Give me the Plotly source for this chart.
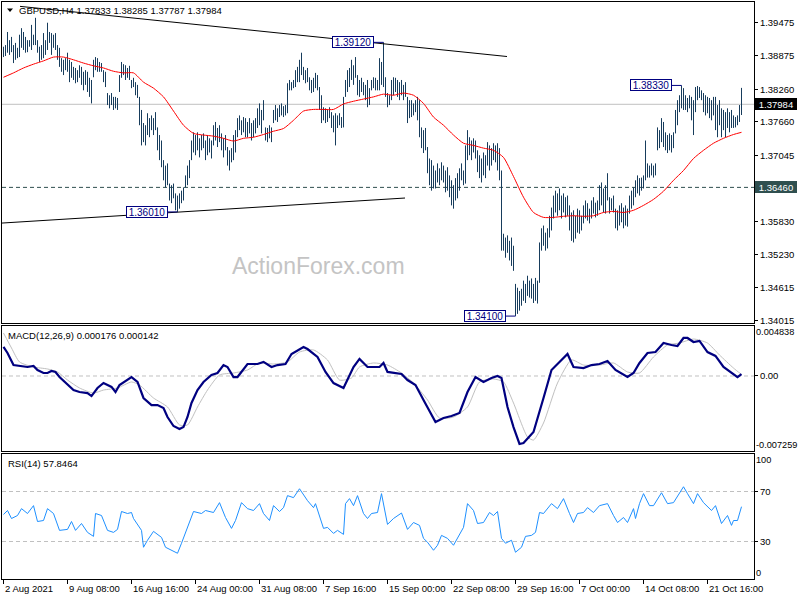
import plotly.graph_objects as go

# ---------------- data ----------------
symbol = "GBPUSD,H4"
last_bar = [1.37833, 1.38285, 1.37787, 1.37984]   # open, high, low, close

bar_high = [
    1.3904, 1.3907, 1.3931, 1.3916, 1.3922, 1.3907, 1.3911, 1.3902, 1.3926, 1.3938,
    1.3931, 1.3922, 1.3916, 1.3916, 1.3944, 1.3926, 1.3957, 1.3916, 1.3904, 1.3907,
    1.3929, 1.3916, 1.3948, 1.3931, 1.3929, 1.3926, 1.3929, 1.3907, 1.3902, 1.3883,
    1.3880, 1.3883, 1.3893, 1.3880, 1.3876, 1.3867, 1.3865, 1.3861, 1.3870, 1.3867,
    1.3858, 1.3861, 1.3858, 1.3847, 1.3843, 1.3880, 1.3885, 1.3883, 1.3876, 1.3874,
    1.3861, 1.3858, 1.3819, 1.3815, 1.3819, 1.3812, 1.3812, 1.3810, 1.3852, 1.3876,
    1.3872, 1.3870, 1.3865, 1.3869, 1.3843, 1.3847, 1.3839, 1.3834, 1.3812, 1.3788,
    1.3764, 1.3760, 1.3782, 1.3773, 1.3778, 1.3773, 1.3784, 1.3756, 1.3742, 1.3732,
    1.3696, 1.3686, 1.3690, 1.3653, 1.3650, 1.3653, 1.3635, 1.3631, 1.3635, 1.3640,
    1.3646, 1.3668, 1.3686, 1.3696, 1.3732, 1.3747, 1.3742, 1.3747, 1.3736, 1.3742,
    1.3745, 1.3732, 1.3742, 1.3736, 1.3732, 1.3760, 1.3766, 1.3755, 1.3760, 1.3745,
    1.3736, 1.3742, 1.3720, 1.3714, 1.3718, 1.3742, 1.3751, 1.3773, 1.3778, 1.3769,
    1.3775, 1.3773, 1.3766, 1.3773, 1.3764, 1.3769, 1.3773, 1.3791, 1.3800, 1.3788,
    1.3806, 1.3756, 1.3755, 1.3760, 1.3756, 1.3788, 1.3797, 1.3791, 1.3797, 1.3800,
    1.3795, 1.3797, 1.3837, 1.3843, 1.3839, 1.3843, 1.3861, 1.3867, 1.3880, 1.3893,
    1.3867, 1.3861, 1.3865, 1.3848, 1.3843, 1.3847, 1.3856, 1.3852, 1.3830, 1.3815,
    1.3793, 1.3791, 1.3788, 1.3793, 1.3784, 1.3778, 1.3782, 1.3778, 1.3782, 1.3775,
    1.3812, 1.3843, 1.3861, 1.3865, 1.3880, 1.3870, 1.3885, 1.3852, 1.3843, 1.3847,
    1.3839, 1.3834, 1.3843, 1.3828, 1.3843, 1.3848, 1.3847, 1.3843, 1.3883, 1.3876,
    1.3912, 1.3848, 1.3819, 1.3815, 1.3843, 1.3848, 1.3847, 1.3843, 1.3839, 1.3843,
    1.3834, 1.3839, 1.3812, 1.3806, 1.3806, 1.3800, 1.3806, 1.3812, 1.3806, 1.3756,
    1.3751, 1.3755, 1.3720, 1.3699, 1.3696, 1.3686, 1.3677, 1.3690, 1.3681, 1.3692,
    1.3686, 1.3677, 1.3683, 1.3668, 1.3659, 1.3650, 1.3663, 1.3672, 1.3681, 1.3690,
    1.3677, 1.3723, 1.3751, 1.3738, 1.3732, 1.3736, 1.3732, 1.3714, 1.3705, 1.3699,
    1.3710, 1.3705, 1.3729, 1.3723, 1.3718, 1.3727, 1.3723, 1.3727, 1.3718, 1.3677,
    1.3561, 1.3554, 1.3558, 1.3548, 1.3554, 1.3539, 1.3469, 1.3462, 1.3456, 1.3460,
    1.3475, 1.3469, 1.3484, 1.3475, 1.3479, 1.3469, 1.3480, 1.3475, 1.3545, 1.3571,
    1.3576, 1.3563, 1.3571, 1.3594, 1.3609, 1.3631, 1.3640, 1.3635, 1.3644, 1.3631,
    1.3635, 1.3628, 1.3631, 1.3613, 1.3600, 1.3604, 1.3594, 1.3607, 1.3604, 1.3594,
    1.3613, 1.3622, 1.3617, 1.3607, 1.3622, 1.3628, 1.3618, 1.3622, 1.3650, 1.3655,
    1.3644, 1.3650, 1.3672, 1.3628, 1.3626, 1.3631, 1.3607, 1.3604, 1.3613, 1.3617,
    1.3609, 1.3613, 1.3607, 1.3631, 1.3640, 1.3646, 1.3659, 1.3668, 1.3663, 1.3664,
    1.3668, 1.3732, 1.3690, 1.3686, 1.3690, 1.3686, 1.3690, 1.3756, 1.3751, 1.3773,
    1.3766, 1.3747, 1.3742, 1.3745, 1.3742, 1.3747, 1.3788, 1.3806, 1.3815, 1.3833,
    1.3828, 1.3815, 1.3810, 1.3815, 1.3812, 1.3806, 1.3830, 1.3832, 1.3830, 1.3824,
    1.3819, 1.3815, 1.3812, 1.3810, 1.3806, 1.3812, 1.3812, 1.3797, 1.3806, 1.3791,
    1.3788, 1.3784, 1.3791, 1.3784, 1.3788, 1.3778, 1.3775, 1.3778, 1.3797, 1.38285,
]

bar_low = [
    1.3885, 1.3887, 1.3893, 1.3889, 1.3894, 1.3874, 1.3880, 1.3883, 1.3885, 1.3902,
    1.3898, 1.3893, 1.3894, 1.3904, 1.3898, 1.3907, 1.3907, 1.3893, 1.3876, 1.3880,
    1.3883, 1.3889, 1.3898, 1.3911, 1.3889, 1.3902, 1.3898, 1.3880, 1.3867, 1.3858,
    1.3852, 1.3861, 1.3858, 1.3839, 1.3847, 1.3843, 1.3837, 1.3839, 1.3847, 1.3834,
    1.3824, 1.3834, 1.3821, 1.3812, 1.3800, 1.3848, 1.3861, 1.3858, 1.3858, 1.3858,
    1.3839, 1.3830, 1.3797, 1.3791, 1.3797, 1.3788, 1.3791, 1.3788, 1.3821, 1.3847,
    1.3852, 1.3843, 1.3847, 1.3843, 1.3828, 1.3830, 1.3815, 1.3810, 1.3760, 1.3723,
    1.3729, 1.3723, 1.3742, 1.3738, 1.3751, 1.3742, 1.3751, 1.3714, 1.3696, 1.3683,
    1.3659, 1.3646, 1.3650, 1.3622, 1.3617, 1.3626, 1.3604, 1.3601, 1.3607, 1.3617,
    1.3622, 1.3646, 1.3650, 1.3663, 1.3696, 1.3710, 1.3705, 1.3714, 1.3701, 1.3714,
    1.3718, 1.3696, 1.3705, 1.3710, 1.3699, 1.3723, 1.3732, 1.3720, 1.3729, 1.3714,
    1.3701, 1.3714, 1.3686, 1.3677, 1.3692, 1.3696, 1.3710, 1.3738, 1.3751, 1.3742,
    1.3747, 1.3738, 1.3738, 1.3745, 1.3732, 1.3738, 1.3745, 1.3755, 1.3760, 1.3745,
    1.3769, 1.3732, 1.3729, 1.3736, 1.3729, 1.3764, 1.3769, 1.3766, 1.3775, 1.3778,
    1.3775, 1.3778, 1.3782, 1.3824, 1.3824, 1.3828, 1.3830, 1.3839, 1.3839, 1.3852,
    1.3843, 1.3837, 1.3839, 1.3824, 1.3819, 1.3821, 1.3828, 1.3824, 1.3788, 1.3764,
    1.3769, 1.3764, 1.3766, 1.3773, 1.3755, 1.3747, 1.3723, 1.3755, 1.3760, 1.3755,
    1.3756, 1.3812, 1.3821, 1.3830, 1.3843, 1.3834, 1.3847, 1.3815, 1.3812, 1.3821,
    1.3815, 1.3806, 1.3793, 1.3797, 1.3824, 1.3828, 1.3824, 1.3824, 1.3824, 1.3834,
    1.3830, 1.3812, 1.3793, 1.3797, 1.3806, 1.3815, 1.3821, 1.3812, 1.3806, 1.3815,
    1.3806, 1.3812, 1.3764, 1.3773, 1.3775, 1.3778, 1.3784, 1.3769, 1.3738, 1.3718,
    1.3709, 1.3714, 1.3672, 1.3650, 1.3640, 1.3644, 1.3644, 1.3655, 1.3650, 1.3659,
    1.3655, 1.3637, 1.3640, 1.3628, 1.3613, 1.3607, 1.3622, 1.3626, 1.3640, 1.3659,
    1.3650, 1.3653, 1.3696, 1.3705, 1.3696, 1.3710, 1.3699, 1.3674, 1.3663, 1.3655,
    1.3668, 1.3663, 1.3686, 1.3677, 1.3686, 1.3696, 1.3692, 1.3677, 1.3659, 1.3530,
    1.3530, 1.3517, 1.3526, 1.3512, 1.3502, 1.3493, 1.3410, 1.3414, 1.3420, 1.3429,
    1.3438, 1.3434, 1.3447, 1.3444, 1.3442, 1.3434, 1.3438, 1.3433, 1.3471, 1.3530,
    1.3539, 1.3530, 1.3534, 1.3554, 1.3567, 1.3589, 1.3600, 1.3594, 1.3604, 1.3589,
    1.3600, 1.3591, 1.3594, 1.3567, 1.3548, 1.3545, 1.3552, 1.3563, 1.3561, 1.3567,
    1.3580, 1.3589, 1.3585, 1.3580, 1.3589, 1.3598, 1.3591, 1.3594, 1.3604, 1.3613,
    1.3600, 1.3598, 1.3622, 1.3598, 1.3604, 1.3600, 1.3571, 1.3567, 1.3576, 1.3582,
    1.3571, 1.3576, 1.3574, 1.3598, 1.3607, 1.3613, 1.3628, 1.3635, 1.3631, 1.3640,
    1.3644, 1.3659, 1.3664, 1.3664, 1.3668, 1.3664, 1.3668, 1.3714, 1.3718, 1.3729,
    1.3720, 1.3714, 1.3709, 1.3714, 1.3710, 1.3718, 1.3745, 1.3760, 1.3784, 1.3791,
    1.3788, 1.3788, 1.3784, 1.3791, 1.3769, 1.3742, 1.3784, 1.3806, 1.3810, 1.3806,
    1.3784, 1.3778, 1.3782, 1.3773, 1.3769, 1.3778, 1.3751, 1.3738, 1.3760, 1.3738,
    1.3751, 1.3738, 1.3755, 1.3747, 1.3755, 1.3755, 1.3756, 1.3760, 1.3766, 1.37787,
]

# moving average (red), sampled every 5 bars
ma_idx = list(range(0, 366, 5)) + [369]
ma_val = [
    1.3848, 1.3856, 1.3865, 1.3872, 1.3878, 1.3885, 1.3885, 1.3880, 1.3874, 1.3869,
    1.3865, 1.3859, 1.3856, 1.3856, 1.3839, 1.3828, 1.3812, 1.3786, 1.3760, 1.3745,
    1.3742, 1.3740, 1.3736, 1.3731, 1.3736, 1.3738, 1.3743, 1.3749, 1.3754, 1.3769,
    1.3786, 1.3789, 1.3789, 1.3789, 1.3799, 1.3804, 1.3808, 1.3812, 1.3817, 1.3815,
    1.3819, 1.3815, 1.3800, 1.3775, 1.3760, 1.3742, 1.3727, 1.3723, 1.3718, 1.3714,
    1.3701, 1.3666, 1.3628, 1.3600, 1.3591, 1.3591, 1.3593, 1.3594, 1.3593, 1.3594,
    1.3600, 1.3602, 1.3600, 1.3604, 1.3613, 1.3624, 1.3639, 1.3659, 1.3677, 1.3699,
    1.3714, 1.3727, 1.3736, 1.3743, 1.3747,
]

# MACD(12,26,9): main line and signal line
macd_idx = [0, 2, 5, 8, 12, 15, 17, 20, 22, 24, 26, 28, 32, 35, 38, 42, 44, 47, 50, 54,
            56, 58, 64, 67, 70, 74, 77, 80, 82, 85, 88, 90, 92, 94, 97, 100, 104, 107, 110, 112,
            115, 117, 122, 127, 130, 134, 137, 141, 144, 150, 152, 157, 161, 165, 170, 172, 175, 178, 182, 188,
            190, 192, 199, 202, 206, 210, 214, 216, 220, 224, 228, 232, 236, 240, 244, 247, 249, 252, 255, 258,
            260, 265, 270, 274, 278, 282, 285, 290, 294, 298, 302, 306, 312, 315, 318, 322, 326, 330, 334, 337,
            340, 342, 345, 348, 352, 356, 360, 364, 367, 369]
macd_val = [0.00281, 0.00223, 0.00106, 0.00097, 0.00087, 0.00097, 0.00058, 0.00029, 0.00029, 0.00048,
            0.00039, -0.0001, -0.00087, -0.00136, -0.00155, -0.00165, -0.00194, -0.00116, -0.00068, -0.00106,
            -0.00155, -0.00087, -0.0001, -0.00058, -0.00213, -0.00281, -0.00281, -0.0031, -0.00397, -0.00484,
            -0.00513, -0.00494, -0.00397, -0.00261, -0.00136, -0.00058, 0.0001, 0.00029, 0.00106, 0.00087,
            -0.0001, -0.0001, 0.00116, 0.00116, 0.00136, 0.00087, 0.00106, 0.00116, 0.00213, 0.00281,
            0.00261, 0.00184, 0.00039, -0.00068, -0.00116, -0.00039, 0.00087, 0.00165, 0.00087, 0.00087,
            0.00126, 0.00039, 0.00019, -0.00039, -0.00087, -0.00232, -0.00378, -0.00445, -0.00407, -0.00387,
            -0.00358, -0.00155, -0.0001, -0.00058, -0.00019, 0.0, -0.00019, -0.003, -0.00494, -0.00658,
            -0.00649, -0.00542, -0.00213, 0.00058, 0.00136, 0.00213, 0.00087, 0.00077, 0.00106, 0.00116,
            0.00145, 0.00058, -0.0001, 0.00029, 0.00126, 0.00223, 0.00232, 0.00319, 0.003, 0.0029,
            0.00368, 0.00368, 0.00329, 0.00339, 0.00232, 0.00194, 0.00087, 0.00029, -0.0001, 0.000176]

signal_idx = [0, 4, 8, 15, 22, 27, 32, 38, 45, 50, 57, 64, 68, 75, 82, 88, 92, 97, 102, 108,
              115, 122, 128, 135, 142, 148, 155, 162, 168, 174, 178, 185, 192, 199, 205, 212, 218, 225, 232, 238,
              245, 250, 255, 262, 265, 270, 277, 284, 290, 298, 305, 312, 318, 325, 332, 338, 345, 352, 358, 365,
              369]
signal_val = [0.00416, 0.00271, 0.00136, 0.00087, 0.00068, 0.00039, -0.00039, -0.00116, -0.00165, -0.00136,
              -0.00116, -0.00058, -0.00087, -0.00213, -0.003, -0.00474, -0.00474, -0.003, -0.00136, 0.0001,
              0.00029, 0.00058, 0.00126, 0.00116, 0.00136, 0.00232, 0.00252, 0.00155, -0.00039, -0.00019,
              0.00087, 0.00126, 0.00106, 0.00029, -0.00068, -0.00232, -0.00407, -0.00397, -0.003, -0.00058,
              -0.00029, -0.00058, -0.00261, -0.0059, -0.0062, -0.00455, -0.00068, 0.00155, 0.00106, 0.00106,
              0.00126, 0.00039, 0.00029, 0.00184, 0.003, 0.00319, 0.00358, 0.00319, 0.00203, 0.00077,
              0.000142]
macd_scale = [-0.007259, 0.004838]

# RSI(14)
rsi_idx = [0, 2, 4, 7, 9, 12, 15, 17, 20, 22, 25, 28, 32, 34, 36, 39, 42, 45, 46, 49,
           52, 55, 57, 59, 62, 64, 65, 69, 70, 72, 75, 79, 81, 84, 87, 89, 91, 93, 95, 99,
           101, 105, 108, 111, 114, 116, 119, 122, 125, 128, 130, 133, 135, 138, 140, 142, 145, 148, 152, 155,
           156, 160, 162, 165, 167, 170, 171, 173, 175, 177, 180, 182, 184, 187, 189, 192, 195, 199, 202, 205,
           208, 210, 212, 215, 217, 219, 222, 225, 227, 230, 232, 235, 237, 240, 243, 245, 247, 249, 251, 254,
           256, 259, 261, 264, 266, 268, 270, 274, 277, 280, 283, 285, 287, 290, 292, 295, 298, 302, 305, 307,
           310, 312, 315, 316, 318, 320, 323, 325, 329, 332, 335, 340, 342, 345, 347, 350, 354, 356, 359, 362,
           364, 365, 367, 369]
rsi_val = [51.6, 54.8, 48.4, 50.8, 56.3, 52.4, 58.7, 46.0, 46.8, 56.3, 52.4, 38.9, 39.7, 46.0, 38.9, 44.4, 37.3, 34.1, 52.4, 50.8,
           38.9, 37.3, 39.7, 54.0, 52.4, 53.2, 48.4, 38.9, 25.4, 31.0, 38.1, 33.3, 25.4, 23.0, 20.6, 28.6, 37.3, 44.4, 54.0, 52.4,
           54.8, 53.2, 61.1, 49.2, 40.5, 46.8, 61.1, 56.3, 54.8, 60.3, 52.4, 46.8, 58.7, 54.0, 57.1, 66.7, 65.1, 72.2, 62.7, 57.1,
           60.3, 40.5, 41.3, 36.5, 38.9, 35.7, 60.3, 64.3, 58.7, 66.7, 52.4, 48.4, 52.4, 53.2, 68.3, 43.7, 48.4, 52.8, 39.7, 45.2,
           42.9, 32.5, 29.4, 23.0, 27.0, 34.9, 32.5, 27.0, 32.5, 41.3, 60.3, 54.8, 44.4, 45.2, 53.2, 50.8, 54.0, 32.5, 28.6, 31.0,
           21.4, 25.4, 34.1, 34.9, 37.3, 53.2, 52.4, 60.3, 56.3, 64.3, 52.4, 45.2, 52.4, 53.2, 57.1, 53.2, 58.7, 60.3, 50.8, 45.2,
           49.2, 45.2, 56.3, 48.4, 60.3, 68.3, 58.7, 58.7, 69.0, 60.3, 61.1, 73.8, 68.3, 60.3, 68.3, 61.1, 54.8, 58.7, 44.4, 50.8,
           42.9, 46.8, 46.8, 57.8464]
rsi_levels = [70, 30]

# time axis
date_idx = [0, 32, 64, 96, 128, 160, 192, 224, 256, 288, 320, 352]
date_labels = ["2 Aug 2021", "9 Aug 08:00", "16 Aug 16:00", "24 Aug 00:00", "31 Aug 08:00",
               "7 Sep 16:00", "15 Sep 00:00", "22 Sep 08:00", "29 Sep 16:00", "7 Oct 00:00",
               "14 Oct 08:00", "21 Oct 16:00"]

price_ticks = [1.39475, 1.38875, 1.38260, 1.37660, 1.37045, 1.35830, 1.35230, 1.34615, 1.34015]
price_range = [1.33973, 1.39860]
support_level = 1.36460

# swing highs / lows marked on the chart: (bar index, price)
swing_marks = [(87, 1.36010), (190, 1.39120), (256, 1.34100), (339, 1.38330)]

# trend lines: ((bar index, price), (bar index, price))
trend_upper = ((8.25, 1.3978), (251.75, 1.3886))
trend_lower = ((-0.75, 1.35806), (200.75, 1.36265))

# ---------------- layout helpers ----------------
W, H = 800, 600
ML, MR, MT, MB = 2, 46, 2, 21
PW, PH = W - ML - MR, H - MT - MB
X_RANGE = [-0.75, 375.25]


def fx(px):
    return (px - ML) / PW


def fy(py):
    return (H - MB - py) / PH


FONT = "Liberation Sans, Arial, sans-serif"
FS = 9.5
BAR_COLOR = "#173c5c"
NAVY = "#000080"

fig = go.Figure()

# price bars (high-low)
bx, by = [], []
for i, (h, l) in enumerate(zip(bar_high, bar_low)):
    bx += [i, i, None]
    by += [l, h, None]
fig.add_trace(go.Scatter(x=bx, y=by, mode="lines", line=dict(color=BAR_COLOR, width=1),
                         xaxis="x", yaxis="y", hoverinfo="skip"))
fig.add_trace(go.Scatter(x=ma_idx, y=ma_val, mode="lines",
                         line=dict(color="#ff0000", width=1, shape="spline", smoothing=0.6),
                         xaxis="x", yaxis="y"))

# MACD
fig.add_trace(go.Scatter(x=signal_idx, y=signal_val, mode="lines",
                         line=dict(color="#c0c0c0", width=1, shape="spline", smoothing=0.6),
                         xaxis="x2", yaxis="y2"))
fig.add_trace(go.Scatter(x=macd_idx, y=macd_val, mode="lines",
                         line=dict(color=NAVY, width=2.2),
                         xaxis="x2", yaxis="y2"))

# RSI
fig.add_trace(go.Scatter(x=rsi_idx, y=rsi_val, mode="lines",
                         line=dict(color="#1e90ff", width=1),
                         xaxis="x3", yaxis="y3"))

frame = dict(showline=True, mirror=True, linecolor="black", linewidth=1,
             showgrid=False, zeroline=False, fixedrange=True)
tickfont = dict(family=FONT, size=FS, color="black")

fig.update_layout(
    width=W, height=H,
    margin=dict(l=ML, r=MR, t=MT, b=MB),
    paper_bgcolor="white", plot_bgcolor="white",
    showlegend=False,
    font=dict(family=FONT, size=FS, color="black"),
    xaxis=dict(domain=[0, 1], anchor="y", range=X_RANGE, ticks="", showticklabels=False, **frame),
    xaxis2=dict(domain=[0, 1], anchor="y2", range=X_RANGE, ticks="", showticklabels=False, **frame),
    xaxis3=dict(domain=[0, 1], anchor="y3", range=X_RANGE, tickmode="array", tickvals=date_idx,
                ticks="outside", ticklen=4, tickcolor="black", showticklabels=False, **frame),
    yaxis=dict(domain=[fy(323), 1.0], anchor="x", side="right", range=price_range,
               tickmode="array", tickvals=price_ticks, ticktext=[f"{v:.5f}" for v in price_ticks],
               ticks="outside", ticklen=3, tickcolor="black", tickfont=tickfont, **frame),
    yaxis2=dict(domain=[fy(451), fy(326)], anchor="x2", side="right", range=macd_scale,
                tickmode="array", tickvals=[0], ticktext=["0.00"],
                ticks="outside", ticklen=3, tickcolor="black", tickfont=tickfont, **frame),
    yaxis3=dict(domain=[0, fy(454)], anchor="x3", side="right", range=[0, 100],
                tickmode="array", tickvals=rsi_levels, ticktext=[str(v) for v in rsi_levels],
                ticks="outside", ticklen=3, tickcolor="black", tickfont=tickfont, **frame),
)

shapes = []
# last price line and support level
shapes.append(dict(type="line", xref="x domain", yref="y", x0=0, x1=1, y0=last_bar[3], y1=last_bar[3],
                   line=dict(color="#c0c0c0", width=1), layer="below"))
shapes.append(dict(type="line", xref="x domain", yref="y", x0=0, x1=1, y0=support_level, y1=support_level,
                   line=dict(color="#2f4f4f", width=1, dash="4px,3px"), layer="below"))
# indicator reference levels
shapes.append(dict(type="line", xref="x2 domain", yref="y2", x0=0, x1=1, y0=0, y1=0,
                   line=dict(color="#c0c0c0", width=1, dash="4px,3px"), layer="below"))
for lv in rsi_levels:
    shapes.append(dict(type="line", xref="x3 domain", yref="y3", x0=0, x1=1, y0=lv, y1=lv,
                       line=dict(color="#c0c0c0", width=1, dash="4px,3px"), layer="below"))
# trend lines
for (a, b) in (trend_upper, trend_lower):
    shapes.append(dict(type="line", xref="x", yref="y", x0=a[0], y0=a[1], x1=b[0], y1=b[1],
                       line=dict(color="black", width=1)))
# swing label connectors
GAP = 5
for idx, price in swing_marks:
    shapes.append(dict(type="line", xref="x", yref="y", x0=idx - GAP, x1=idx, y0=price, y1=price,
                       line=dict(color=NAVY, width=1)))
# small menu triangle next to the symbol name
shapes.append(dict(type="path", xref="paper", yref="paper",
                   path=f"M {fx(7)} {fy(8.5)} L {fx(13)} {fy(8.5)} L {fx(10)} {fy(12)} Z",
                   fillcolor="black", line=dict(color="black", width=0)))
fig.update_layout(shapes=shapes)

ann = []
ann.append(dict(text=symbol + " " + " ".join(f"{v:.5f}" for v in last_bar),
                xref="paper", yref="paper", x=fx(17), y=fy(11), xanchor="left", yanchor="middle",
                showarrow=False, font=dict(family=FONT, size=FS, color="black")))
ann.append(dict(text="MACD(12,26,9) " + f"{macd_val[-1]:.6f} {signal_val[-1]:.6f}",
                xref="paper", yref="paper", x=fx(6), y=fy(335), xanchor="left", yanchor="middle",
                showarrow=False, font=dict(family=FONT, size=FS, color="black")))
ann.append(dict(text=f"RSI(14) {rsi_val[-1]:.4f}",
                xref="paper", yref="paper", x=fx(6), y=fy(463), xanchor="left", yanchor="middle",
                showarrow=False, font=dict(family=FONT, size=FS, color="black")))
ann.append(dict(text="ActionForex.com", xref="paper", yref="paper", x=fx(318), y=fy(266),
                xanchor="center", yanchor="middle", showarrow=False,
                font=dict(family=FONT, size=23, color="#c4c4c4")))

# indicator scale extremes
for text, yref, yv, ya in [(f"{macd_scale[1]:.6f}", "y2 domain", 1, "top"),
                           (f"{macd_scale[0]:.6f}", "y2 domain", 0, "bottom"),
                           ("100", "y3 domain", 1, "top"),
                           ("0", "y3 domain", 0, "bottom")]:
    ann.append(dict(text=text, xref="paper", yref=yref, x=fx(756), y=yv, xanchor="left", yanchor=ya,
                    borderpad=0, borderwidth=0, yshift=-1 if ya == "top" else 1,
                    showarrow=False, font=dict(family=FONT, size=9.2, color="black")))

# price tags on the right scale
for val, bg in [(last_bar[3], "black"), (support_level, "#2f4f4f")]:
    ann.append(dict(text=f"{val:.5f}", xref="paper", yref="y", x=fx(755), y=val,
                    xanchor="left", yanchor="middle", showarrow=False, bgcolor=bg,
                    width=40, height=10, borderpad=1, borderwidth=0,
                    font=dict(family=FONT, size=FS, color="white")))

# swing labels
for idx, price in swing_marks:
    ann.append(dict(text=f"{price:.5f}", xref="x", yref="y", x=idx - GAP, y=price,
                    xanchor="right", yanchor="middle", showarrow=False, bgcolor="white",
                    bordercolor=NAVY, borderwidth=1, borderpad=0, width=40, height=10,
                    font=dict(family=FONT, size=10, color=NAVY)))

# date labels, left-aligned on their tick marks
for idx, lab in zip(date_idx, date_labels):
    ann.append(dict(text=lab, xref="x3", yref="paper", x=idx, y=0, xanchor="left", yanchor="top",
                    xshift=-1, yshift=-2, showarrow=False,
                    font=dict(family=FONT, size=FS, color="black")))

fig.update_layout(annotations=ann)

fig.write_html("out.html", config={"displayModeBar": False})
